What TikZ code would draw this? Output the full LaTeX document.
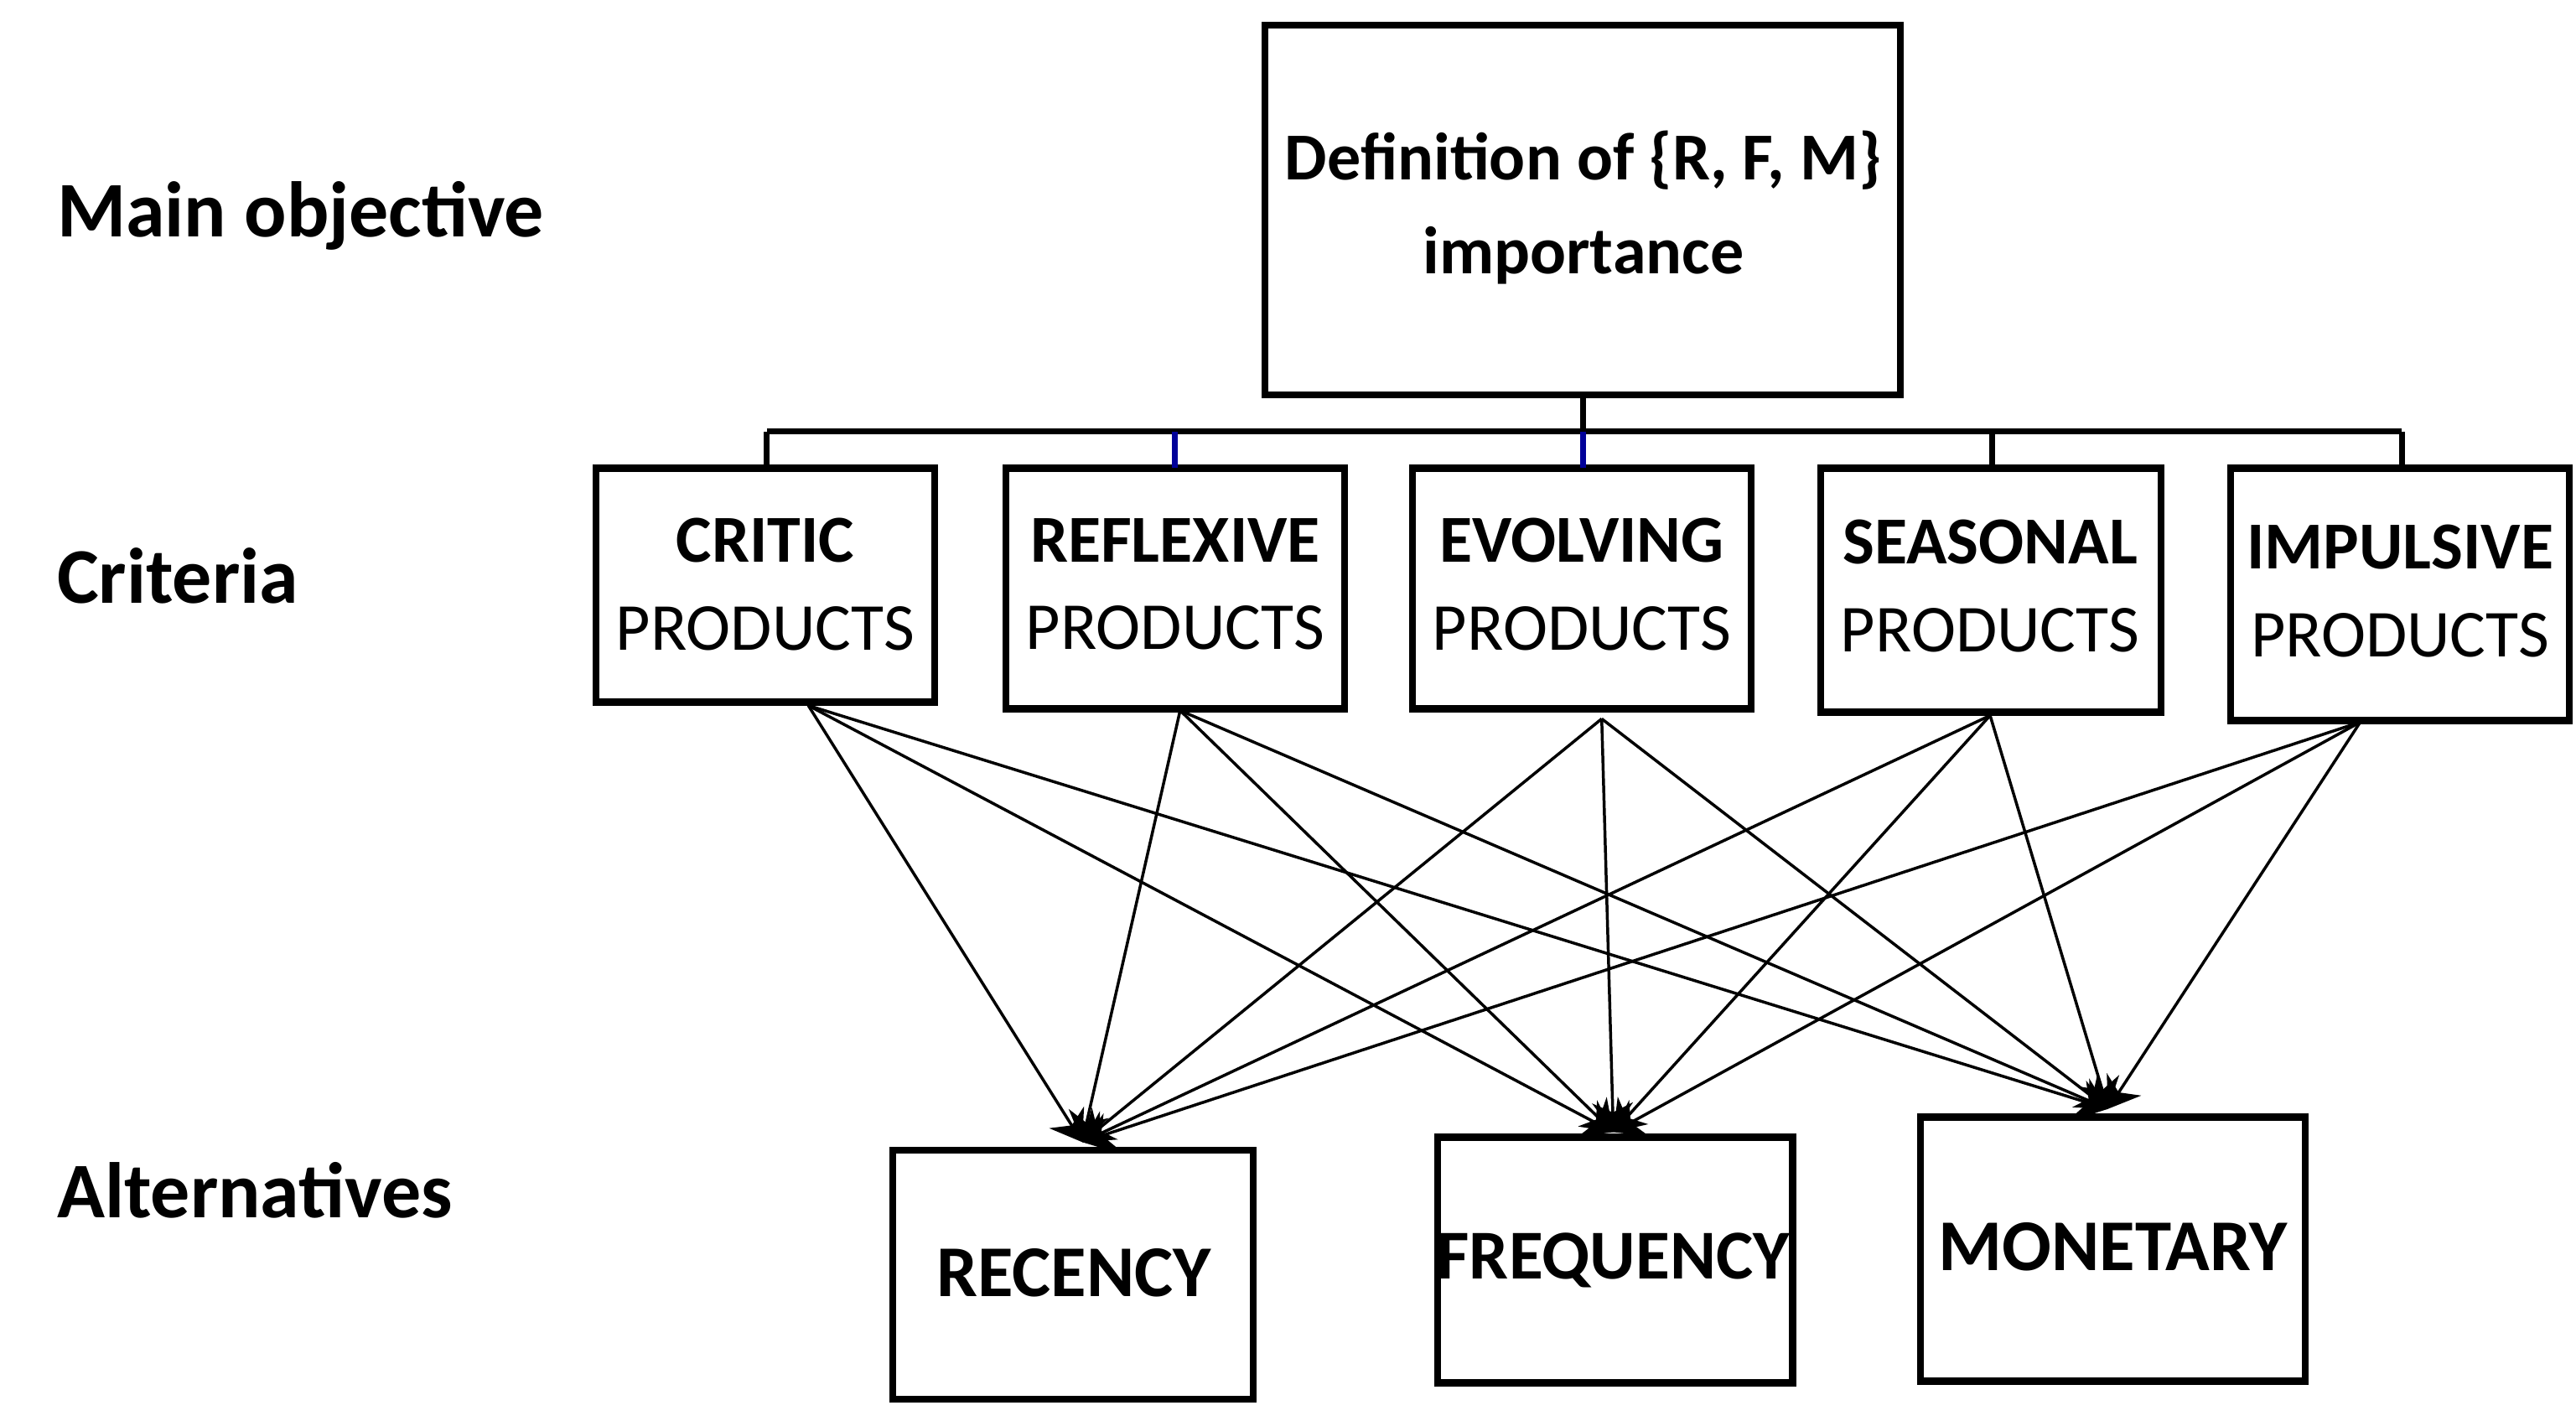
\documentclass[tikz,border=0pt]{standalone}
\usepackage{fontspec}
\setmainfont{Carlito}
\usetikzlibrary{arrows.meta}
\begin{document}
\begin{tikzpicture}[x=0.01cm,y=-0.01cm,
  box/.style={draw,line width=1.2pt,inner sep=0pt},
  lab/.style={anchor=west,font=\fontsize{13.5}{16}\selectfont\bfseries},
  crit/.style={align=center,font=\fontsize{11.5}{14}\selectfont},
  link/.style={line width=0.5pt,-{Stealth[length=5pt,width=7pt]}},
  bus/.style={line width=1pt}]
\useasboundingbox (0,0) rectangle (1552,856);
\node[lab] (lmain) at (22,130) {Main objective};
\node[lab] (lcrit) at (22,347) {Criteria};
\node[lab] (lalt) at (22,717) {Alternatives};
\draw[box] (762,15) rectangle (1145,238);
\node[crit,font=\fontsize{11.5}{14}\selectfont\bfseries] (top) at (954,125) {Definition of \{R, F, M\}\\[2pt]importance};
\draw[box] (359,282) rectangle (563,423);
\draw[box] (606,282) rectangle (810,427);
\draw[box] (851,282) rectangle (1055,427);
\draw[box] (1097,282) rectangle (1302,429);
\draw[box] (1344,282) rectangle (1548,434);
\node[crit] (c1) at (461,352) {\textbf{CRITIC}\\[1pt]PRODUCTS};
\node[crit] (c2) at (708,352) {\textbf{REFLEXIVE}\\[1pt]PRODUCTS};
\node[crit] (c3) at (953,352) {\textbf{EVOLVING}\\[1pt]PRODUCTS};
\node[crit] (c4) at (1199,353) {\textbf{SEASONAL}\\[1pt]PRODUCTS};
\node[crit] (c5) at (1446,356) {\textbf{IMPULSIVE}\\[1pt]PRODUCTS};
\draw[box] (538,693) rectangle (755,843);
\draw[box] (866,685) rectangle (1080,833);
\draw[box] (1157,673) rectangle (1389,832);
\node[crit,font=\fontsize{12.5}{15}\selectfont\bfseries] (a1) at (647,767) {RECENCY};
\node[crit,font=\fontsize{12}{15}\selectfont\bfseries] (a2) at (972,759) {FREQUENCY};
\node[crit,font=\fontsize{12.5}{15}\selectfont\bfseries] (a3) at (1273,751) {MONETARY};
% bus
\coordinate (tb) at (954,238); \coordinate (bm) at (954,260);
\coordinate (bl) at (462,260); \coordinate (br) at (1447,260);
\draw[bus] (tb) -- (bm); \draw[bus] (bl) -- (br);
\draw[bus] (bl) -- (462,282);
\draw[bus,blue!60!black] (708,260) -- (708,282);
\draw[bus,blue!60!black] (954,260) -- (954,282);
\draw[bus] (1200,260) -- (1200,282);
\draw[bus] (br) -- (1447,282);
% links
\coordinate (s1) at (487,425); \coordinate (s2) at (711,428);
\coordinate (s3) at (965,433); \coordinate (s4) at (1199,431);
\coordinate (s5) at (1422,435);
\coordinate (t1) at (652,688); \coordinate (t2) at (972,682); \coordinate (t3) at (1270,668);
\foreach \s in {s1,s2,s3,s4,s5}{
  \foreach \t in {t1,t2,t3}{ \draw[link] (\s) -- (\t); }
}
\end{tikzpicture}
\end{document}
